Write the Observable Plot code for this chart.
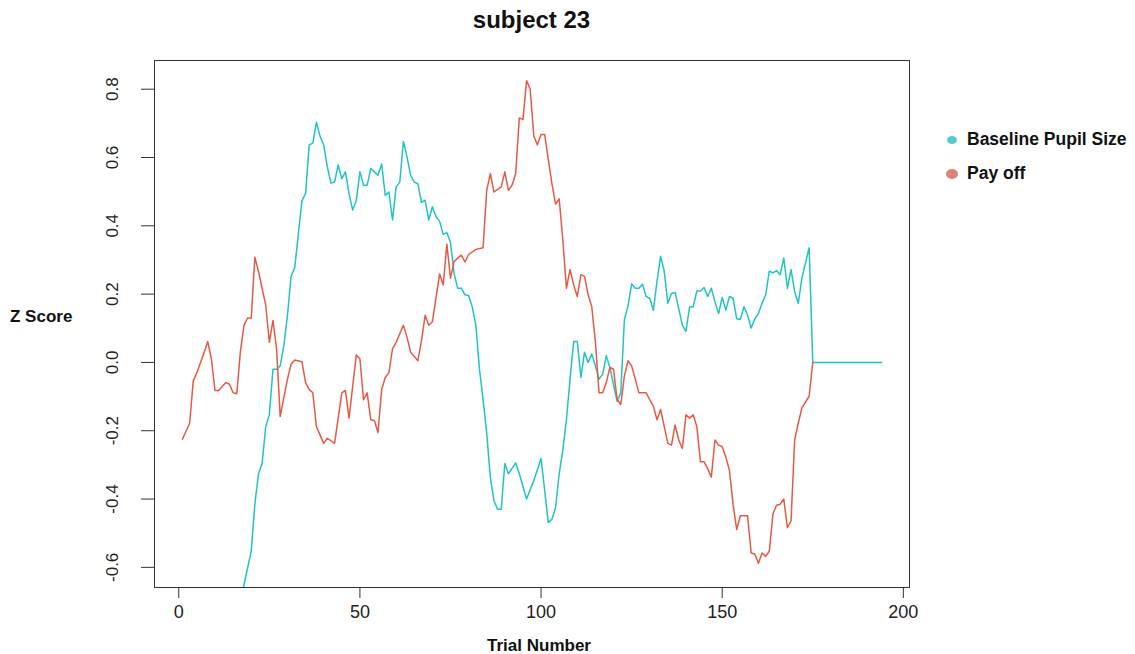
<!DOCTYPE html>
<html>
<head>
<meta charset="utf-8">
<script src="https://cdn.jsdelivr.net/npm/d3@7"></script>
<script src="https://cdn.jsdelivr.net/npm/@observablehq/plot@0.6"></script>
<style>
  body { margin: 0; background: #fff; font-family: Arial, "Liberation Sans", Helvetica, sans-serif; }
  #wrap { position: relative; width: 1135px; height: 654px; overflow: hidden; background: #fff; }
  #chart { position: absolute; left: 0; top: 0; }
  .lbl { position: absolute; font-weight: bold; color: #111; white-space: nowrap; line-height: 1; }
  #title { top: 8px; left: 154px; width: 755px; text-align: center; font-size: 24px; }
  #ylab { left: 10px; top: 308px; font-size: 17px; }
  #xlab { left: 154px; width: 770px; top: 637px; text-align: center; font-size: 17px; }
  .leg { position: absolute; left: 944px; display: flex; align-items: center; font-weight: bold; font-size: 17.5px; color: #111; white-space: nowrap; }
  .dotbox { display: inline-flex; width: 15px; justify-content: center; align-items: center; margin-right: 8px; }
  .dot { display: inline-block; border-radius: 50%; }
</style>
</head>
<body>
<div id="wrap">
  <div id="chart"></div>
  <div id="title" class="lbl"></div>
  <div id="ylab" class="lbl"></div>
  <div id="xlab" class="lbl"></div>
  <div id="legend"></div>
</div>
<script>
// ---- data ----
const titleText = "subject 23";
const xLabel = "Trial Number";
const yLabel = "Z Score";
const seriesNames = ["Baseline Pupil Size", "Pay off"];
const xTicks = [0, 50, 100, 150, 200];
const yTicks = [-0.6, -0.4, -0.2, 0, 0.2, 0.4, 0.6, 0.8];

// [trial, z score]
const payoff = [
  [1,-0.225],[3,-0.178],[4,-0.054],[5,-0.030],[7,0.030],[8,0.061],[9,0.010],[10,-0.082],[11,-0.082],
  [13,-0.059],[14,-0.064],[15,-0.089],[16,-0.092],[17,0.030],[18,0.109],[19,0.130],[20,0.130],[21,0.308],
  [22,0.267],[24,0.168],[25,0.059],[26,0.123],[27,0.040],[28,-0.158],[30,-0.049],[31,-0.005],[32,0.007],
  [34,0.002],[35,-0.059],[36,-0.079],[37,-0.089],[38,-0.188],[40,-0.237],[41,-0.222],[43,-0.237],[45,-0.089],
  [46,-0.082],[47,-0.163],[49,0.022],[50,0.010],[51,-0.109],[52,-0.089],[53,-0.168],[54,-0.170],[55,-0.205],
  [56,-0.079],[57,-0.044],[58,-0.030],[59,0.040],[60,0.059],[62,0.109],[63,0.074],[64,0.030],[66,0.005],
  [67,0.064],[68,0.138],[69,0.109],[70,0.119],[72,0.259],[73,0.227],[74,0.346],[75,0.247],[76,0.296],
  [78,0.314],[79,0.294],[80,0.316],[82,0.331],[84,0.336],[85,0.504],[86,0.553],[87,0.499],[89,0.514],
  [90,0.558],[91,0.504],[92,0.519],[93,0.553],[94,0.716],[95,0.711],[96,0.825],[97,0.800],[98,0.662],
  [99,0.637],[100,0.667],[101,0.667],[103,0.523],[104,0.464],[105,0.479],[106,0.360],[107,0.217],[108,0.272],
  [109,0.227],[110,0.193],[111,0.257],[112,0.252],[113,0.198],[114,0.163],[115,0.059],[116,-0.089],[117,-0.089],
  [118,-0.059],[119,-0.015],[120,-0.020],[121,-0.109],[122,-0.123],[123,-0.040],[124,0.005],[125,-0.010],
  [126,-0.049],[127,-0.089],[129,-0.089],[130,-0.109],[131,-0.128],[132,-0.168],[133,-0.138],[134,-0.188],
  [135,-0.237],[136,-0.242],[137,-0.183],[138,-0.227],[139,-0.252],[140,-0.153],[141,-0.163],[142,-0.153],
  [143,-0.188],[144,-0.291],[145,-0.291],[146,-0.311],[147,-0.336],[148,-0.227],[149,-0.242],[150,-0.247],
  [151,-0.277],[152,-0.316],[153,-0.415],[154,-0.489],[155,-0.449],[157,-0.449],[158,-0.558],[159,-0.561],
  [160,-0.588],[161,-0.558],[162,-0.568],[163,-0.553],[164,-0.444],[165,-0.418],[166,-0.415],[167,-0.400],
  [168,-0.484],[169,-0.464],[170,-0.227],[171,-0.178],[172,-0.133],[174,-0.099],[175,0]
];

const pupil = [
  [16,-0.78],[17,-0.70],[19,-0.602],[20,-0.553],[21,-0.415],[22,-0.326],[23,-0.296],[24,-0.188],[25,-0.153],
  [26,-0.020],[27,-0.020],[28,-0.010],[29,0.049],[30,0.138],[31,0.252],[32,0.277],[33,0.375],[34,0.474],
  [35,0.494],[36,0.637],[37,0.642],[38,0.703],[39,0.662],[40,0.637],[41,0.573],[42,0.525],[43,0.528],
  [44,0.578],[45,0.538],[46,0.558],[47,0.494],[48,0.446],[49,0.474],[50,0.558],[51,0.519],[52,0.519],
  [53,0.568],[54,0.558],[55,0.548],[56,0.581],[57,0.489],[58,0.499],[59,0.417],[60,0.514],[61,0.528],
  [62,0.647],[63,0.602],[64,0.548],[65,0.528],[66,0.523],[67,0.469],[68,0.475],[69,0.417],[70,0.456],
  [71,0.427],[72,0.413],[73,0.375],[74,0.380],[75,0.351],[76,0.260],[77,0.217],[78,0.217],[79,0.198],
  [80,0.196],[81,0.163],[82,0.109],[83,-0.020],[84,-0.109],[85,-0.207],[86,-0.336],[87,-0.405],[88,-0.430],
  [89,-0.430],[90,-0.296],[91,-0.326],[93,-0.294],[94,-0.326],[96,-0.400],[98,-0.346],[100,-0.281],
  [101,-0.375],[102,-0.469],[103,-0.459],[104,-0.425],[105,-0.326],[106,-0.257],[107,-0.168],[108,-0.049],
  [109,0.061],[110,0.061],[111,-0.044],[112,0.030],[113,0.000],[114,0.025],[115,-0.010],[116,-0.049],
  [117,-0.035],[118,0.020],[119,-0.015],[121,-0.114],[122,-0.089],[123,0.125],[124,0.165],[125,0.230],
  [126,0.217],[127,0.217],[128,0.229],[129,0.193],[130,0.188],[131,0.153],[132,0.237],[133,0.311],
  [134,0.267],[135,0.173],[136,0.202],[137,0.205],[138,0.158],[139,0.109],[140,0.091],[141,0.163],
  [142,0.163],[143,0.209],[144,0.209],[145,0.219],[146,0.193],[147,0.217],[148,0.178],[149,0.143],
  [150,0.190],[151,0.153],[152,0.193],[153,0.188],[154,0.128],[155,0.126],[156,0.163],[157,0.138],
  [158,0.101],[159,0.128],[160,0.143],[161,0.173],[162,0.198],[163,0.267],[164,0.262],[165,0.269],
  [166,0.257],[167,0.306],[168,0.217],[169,0.272],[170,0.207],[171,0.173],[172,0.247],[174,0.336],
  [175,0],[176,0],[177,0],[178,0],[179,0],[180,0],[181,0],[182,0],[183,0],[184,0],[185,0],[186,0],
  [187,0],[188,0],[189,0],[190,0],[191,0],[192,0],[193,0],[194,0]
];

// ---- styling ----
const lineColors = ["#22C3C3", "#E65A44"];
const dotColors = ["#55CDCD", "#DE807B"];

const toRows = (arr) => arr.map(([trial, z]) => ({trial, z}));

const chart = Plot.plot({
  width: 1135,
  height: 654,
  marginLeft: 154,
  marginRight: 226,
  marginTop: 60,
  marginBottom: 67,
  style: {fontFamily: "Arial, 'Liberation Sans', Helvetica, sans-serif", color: "#222", background: "#fff", overflow: "visible"},
  x: {domain: [-6.7, 201.7]},
  y: {domain: [-0.659, 0.884]},
  marks: [
    Plot.line(toRows(pupil), {x: "trial", y: "z", stroke: lineColors[0], strokeWidth: 1.5, clip: true}),
    Plot.line(toRows(payoff), {x: "trial", y: "z", stroke: lineColors[1], strokeWidth: 1.5, clip: true}),
    Plot.frame({stroke: "#333", strokeWidth: 1}),
    Plot.axisX({ticks: xTicks, tickSize: 11, tickPadding: 7, fontSize: 18, label: null, stroke: "#333"}),
    Plot.axisY({ticks: yTicks, tickFormat: d => d.toFixed(1), tickSize: 13, tickPadding: 29,
                tickRotate: -90, textAnchor: "middle", lineAnchor: "middle", fontSize: 17, label: null, stroke: "#333"})
  ]
});
document.getElementById("chart").appendChild(chart);

document.getElementById("title").textContent = titleText;
document.getElementById("ylab").textContent = yLabel;
document.getElementById("xlab").textContent = xLabel;

const legend = document.getElementById("legend");
const legTops = [129, 163];
const dotSizes = [[10, 8], [12, 10]];
seriesNames.forEach((name, i) => {
  const row = document.createElement("div");
  row.className = "leg";
  row.style.top = legTops[i] + "px";
  const box = document.createElement("span");
  box.className = "dotbox";
  const dot = document.createElement("span");
  dot.className = "dot";
  dot.style.width = dotSizes[i][0] + "px";
  dot.style.height = dotSizes[i][1] + "px";
  dot.style.background = dotColors[i];
  box.appendChild(dot);
  row.appendChild(box);
  const t = document.createElement("span");
  t.textContent = name;
  row.appendChild(t);
  legend.appendChild(row);
});
</script>
</body>
</html>
